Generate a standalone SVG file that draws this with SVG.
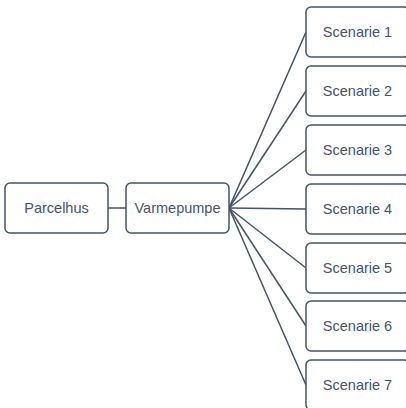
<svg xmlns="http://www.w3.org/2000/svg" width="406" height="408" viewBox="0 0 406 408">
<style>
.box{fill:#ffffff;stroke:#44546A;stroke-width:1.5}
.lbl{font-family:"Liberation Sans",Arial,sans-serif;font-size:14.5px;fill:#44546A;text-anchor:middle;dominant-baseline:central}
.con{stroke:#44546A;stroke-width:1.5;fill:none}
</style>
<rect width="406" height="408" fill="#ffffff"/>
<g id="connectors">
<line class="con" x1="108" y1="208" x2="126" y2="208"/>
<line class="con" x1="229" y1="208" x2="306" y2="32"/>
<line class="con" x1="229" y1="208" x2="306" y2="91"/>
<line class="con" x1="229" y1="208" x2="306" y2="150"/>
<line class="con" x1="229" y1="208" x2="306" y2="209"/>
<line class="con" x1="229" y1="208" x2="306" y2="268"/>
<line class="con" x1="229" y1="208" x2="306" y2="326"/>
<line class="con" x1="229" y1="208" x2="306" y2="385"/>
</g>
<g id="parcelhus"><rect class="box" x="5" y="183" width="103" height="50" rx="5"/><text class="lbl" x="56.5" y="208">Parcelhus</text></g>
<g id="varmepumpe"><rect class="box" x="126" y="183" width="103" height="50" rx="5"/><text class="lbl" x="177.5" y="208">Varmepumpe</text></g>
<g id="s1"><rect class="box" x="306" y="7" width="103" height="50" rx="5"/><text class="lbl" x="357.5" y="32">Scenarie 1</text></g>
<g id="s2"><rect class="box" x="306" y="66" width="103" height="50" rx="5"/><text class="lbl" x="357.5" y="91">Scenarie 2</text></g>
<g id="s3"><rect class="box" x="306" y="125" width="103" height="50" rx="5"/><text class="lbl" x="357.5" y="150">Scenarie 3</text></g>
<g id="s4"><rect class="box" x="306" y="184" width="103" height="50" rx="5"/><text class="lbl" x="357.5" y="209">Scenarie 4</text></g>
<g id="s5"><rect class="box" x="306" y="243" width="103" height="50" rx="5"/><text class="lbl" x="357.5" y="268">Scenarie 5</text></g>
<g id="s6"><rect class="box" x="306" y="301" width="103" height="50" rx="5"/><text class="lbl" x="357.5" y="326">Scenarie 6</text></g>
<g id="s7"><rect class="box" x="306" y="360" width="103" height="50" rx="5"/><text class="lbl" x="357.5" y="385">Scenarie 7</text></g>
</svg>
